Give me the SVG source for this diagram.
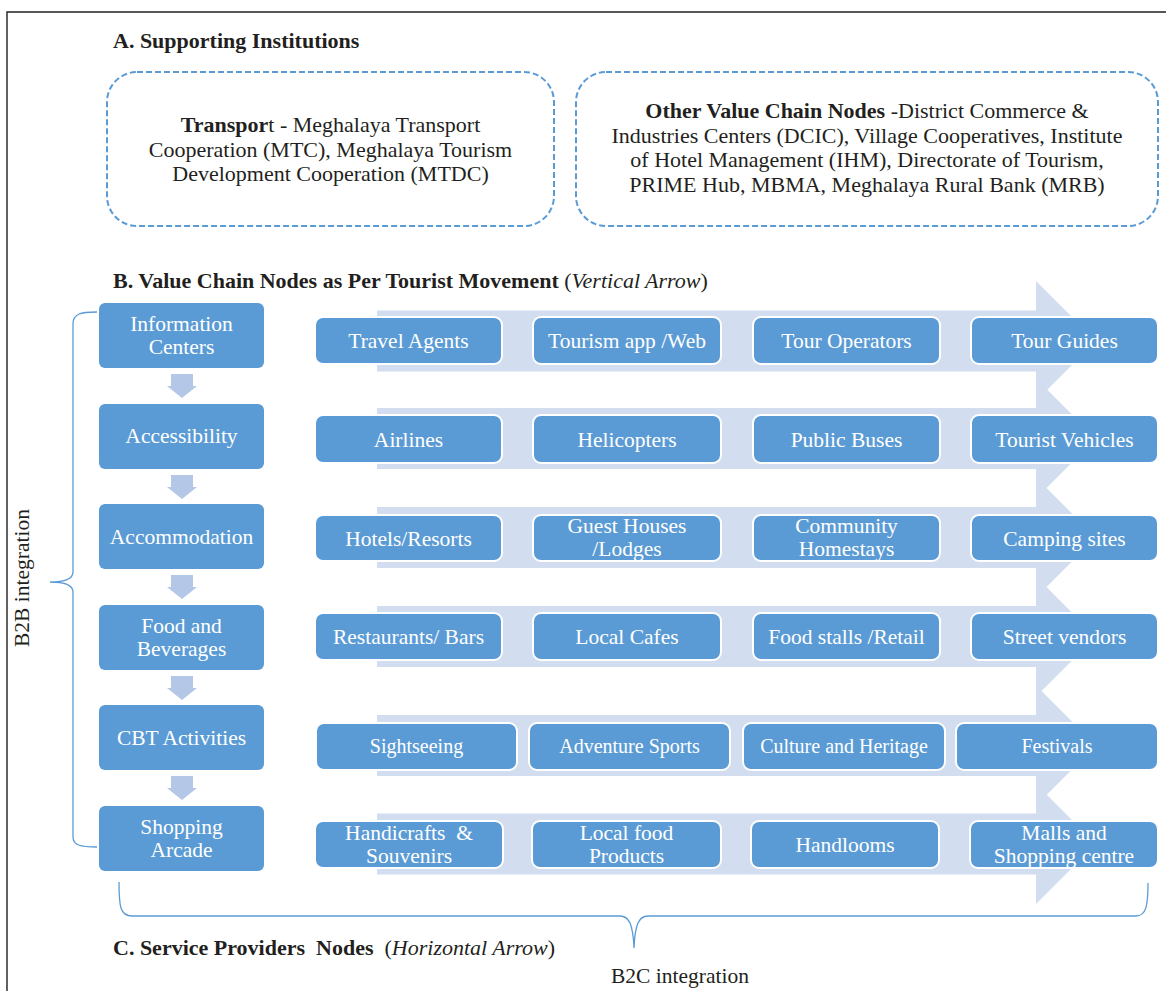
<svg xmlns="http://www.w3.org/2000/svg" width="1166" height="991" viewBox="0 0 1166 991">
<style>
.t{font-family:"Liberation Serif","Times New Roman",serif;fill:#231F20}
.h{font-size:22px;font-weight:bold}
.d{font-size:22px;text-anchor:middle}
.w{font-family:"Liberation Serif","Times New Roman",serif;fill:#ffffff;font-size:21.5px;text-anchor:middle}
.w5{font-size:20px}
.dash{fill:none;stroke:#5B9BD5;stroke-width:2;stroke-dasharray:6 3}
.lb{fill:#5B9BD5;stroke:none}
.rb{fill:#5B9BD5;stroke:#ffffff;stroke-width:2}
.band{fill:#D2DEEF}
.darr{fill:#B4C7E7}
.brace{fill:none;stroke:#5B9BD5;stroke-width:1.3}
</style>
<rect width="1166" height="991" fill="#ffffff"/>
<path d="M7,991 V12 H1166" fill="none" stroke="#231F20" stroke-width="1.4"/>

<text class="t h" x="113" y="48">A. Supporting Institutions</text>

<g id="transport">
<rect class="dash" x="107" y="72" width="447" height="154" rx="30"/>
<text class="t d" x="330.5" y="132"><tspan font-weight="bold">Transpor</tspan>t - Meghalaya Transport</text>
<text class="t d" x="330.5" y="156.5">Cooperation (MTC), Meghalaya Tourism</text>
<text class="t d" x="330.5" y="181">Development Cooperation (MTDC)</text>
</g>

<g id="other-nodes">
<rect class="dash" x="576" y="72" width="582" height="154" rx="30"/>
<text class="t d" x="867" y="118"><tspan font-weight="bold">Other Value Chain Nodes</tspan> -District Commerce &amp;</text>
<text class="t d" x="867" y="142.5">Industries Centers (DCIC), Village Cooperatives, Institute</text>
<text class="t d" x="867" y="167">of Hotel Management (IHM), Directorate of Tourism,</text>
<text class="t d" x="867" y="191.5">PRIME Hub, MBMA, Meghalaya Rural Bank (MRB)</text>
</g>

<text class="t" x="113" y="288" font-size="22"><tspan font-weight="bold">B. Value Chain Nodes as Per Tourist Movement</tspan> (<tspan font-style="italic">Vertical Arrow</tspan>)</text>

<g id="connectors">
<path class="band" d="M377,310.5 H1036 V281 L1096,341 L1036,401 V371.5 H377 Z"/>
<path class="band" d="M377,408 H1036 V378.5 L1096,438.5 L1036,498.5 V469 H377 Z"/>
<path class="band" d="M377,507 H1036 V477.5 L1096,537.5 L1036,597.5 V568 H377 Z"/>
<path class="band" d="M377,606 H1036 V576.5 L1096,636.5 L1036,696.5 V667 H377 Z"/>
<path class="band" d="M377,715 H1036 V685.5 L1096,745.5 L1036,805.5 V776 H377 Z"/>
<path class="band" d="M377,813.5 H1036 V784 L1096,844 L1036,904 V874.5 H377 Z"/>
<path class="darr" d="M171,374 H193 V386 H197 L182,398 L167,386 H171 Z"/>
<path class="darr" d="M171,475 H193 V487 H197 L182,499 L167,487 H171 Z"/>
<path class="darr" d="M171,575 H193 V587 H197 L182,599 L167,587 H171 Z"/>
<path class="darr" d="M171,676 H193 V688 H197 L182,700 L167,688 H171 Z"/>
<path class="darr" d="M171,776 H193 V788 H197 L182,800 L167,788 H171 Z"/>
<path class="brace" d="M97,312 C80,312 73,314 73,324 V572 C73,579 66,582 50,582 C66,582 73,585 73,592 V837 C73,845 80,847 97,847"/>
<path class="brace" d="M119,882 C119,906 120,916 132,916 H620 C629,916 633,924 634,948 C635,924 639,916 648,916 H1136 C1146,916 1148,906 1148,883"/>
</g>

<g id="information-centers"><rect class="lb" x="99" y="303" width="165" height="65" rx="6"/>
<text class="w" x="181.5" y="331">Information</text><text class="w" x="181.5" y="354">Centers</text></g>
<g id="accessibility"><rect class="lb" x="99" y="404" width="165" height="65" rx="6"/>
<text class="w" x="181.5" y="443">Accessibility</text></g>
<g id="accommodation"><rect class="lb" x="99" y="504" width="165" height="65" rx="6"/>
<text class="w" x="181.5" y="544">Accommodation</text></g>
<g id="food-beverages"><rect class="lb" x="99" y="605" width="165" height="65" rx="6"/>
<text class="w" x="181.5" y="633">Food and</text><text class="w" x="181.5" y="656">Beverages</text></g>
<g id="cbt-activities"><rect class="lb" x="99" y="705" width="165" height="65" rx="6"/>
<text class="w" x="181.5" y="745">CBT Activities</text></g>
<g id="shopping-arcade"><rect class="lb" x="99" y="806" width="165" height="65" rx="6"/>
<text class="w" x="181.5" y="834">Shopping</text><text class="w" x="181.5" y="857">Arcade</text></g>

<g id="travel-agents"><rect class="rb" x="315" y="317" width="187" height="47" rx="8"/><text class="w" x="408.5" y="348">Travel Agents</text></g>
<g id="tourism-app"><rect class="rb" x="533" y="317" width="188" height="47" rx="8"/><text class="w" x="627" y="348">Tourism app /Web</text></g>
<g id="tour-operators"><rect class="rb" x="753" y="317" width="187" height="47" rx="8"/><text class="w" x="846.5" y="348">Tour Operators</text></g>
<g id="tour-guides"><rect class="rb" x="971" y="317" width="187" height="47" rx="8"/><text class="w" x="1064.5" y="348">Tour Guides</text></g>

<g id="airlines"><rect class="rb" x="315" y="415" width="187" height="48" rx="8"/><text class="w" x="408.5" y="446.5">Airlines</text></g>
<g id="helicopters"><rect class="rb" x="533" y="415" width="188" height="48" rx="8"/><text class="w" x="627" y="446.5">Helicopters</text></g>
<g id="public-buses"><rect class="rb" x="753" y="415" width="187" height="48" rx="8"/><text class="w" x="846.5" y="446.5">Public Buses</text></g>
<g id="tourist-vehicles"><rect class="rb" x="971" y="415" width="187" height="48" rx="8"/><text class="w" x="1064.5" y="446.5">Tourist Vehicles</text></g>

<g id="hotels"><rect class="rb" x="315" y="515" width="187" height="46" rx="8"/><text class="w" x="408.5" y="545.5">Hotels/Resorts</text></g>
<g id="guest-houses"><rect class="rb" x="533" y="515" width="188" height="46" rx="8"/><text class="w" x="627" y="533">Guest Houses</text><text class="w" x="627" y="556">/Lodges</text></g>
<g id="homestays"><rect class="rb" x="753" y="515" width="187" height="46" rx="8"/><text class="w" x="846.5" y="533">Community</text><text class="w" x="846.5" y="556">Homestays</text></g>
<g id="camping"><rect class="rb" x="971" y="515" width="187" height="46" rx="8"/><text class="w" x="1064.5" y="545.5">Camping sites</text></g>

<g id="restaurants"><rect class="rb" x="315" y="613" width="187" height="47" rx="8"/><text class="w" x="408.5" y="643.5">Restaurants/ Bars</text></g>
<g id="local-cafes"><rect class="rb" x="533" y="613" width="188" height="47" rx="8"/><text class="w" x="627" y="643.5">Local Cafes</text></g>
<g id="food-stalls"><rect class="rb" x="753" y="613" width="187" height="47" rx="8"/><text class="w" x="846.5" y="643.5">Food stalls /Retail</text></g>
<g id="street-vendors"><rect class="rb" x="971" y="613" width="187" height="47" rx="8"/><text class="w" x="1064.5" y="643.5">Street vendors</text></g>

<g id="sightseeing"><rect class="rb" x="316" y="723" width="201" height="47" rx="8"/><text class="w w5" x="416.5" y="753">Sightseeing</text></g>
<g id="adventure-sports"><rect class="rb" x="529" y="723" width="201" height="47" rx="8"/><text class="w w5" x="629.5" y="753">Adventure Sports</text></g>
<g id="culture-heritage"><rect class="rb" x="743" y="723" width="202" height="47" rx="8"/><text class="w w5" x="844" y="753">Culture and Heritage</text></g>
<g id="festivals"><rect class="rb" x="956" y="723" width="202" height="47" rx="8"/><text class="w w5" x="1057" y="753">Festivals</text></g>

<g id="handicrafts"><rect class="rb" x="315" y="821" width="188" height="47" rx="8"/><text class="w" x="409" y="840" xml:space="preserve">Handicrafts  &amp;</text><text class="w" x="409" y="863">Souvenirs</text></g>
<g id="local-food"><rect class="rb" x="532" y="821" width="189" height="47" rx="8"/><text class="w" x="626.5" y="840">Local food</text><text class="w" x="626.5" y="863">Products</text></g>
<g id="handlooms"><rect class="rb" x="751" y="821" width="188" height="47" rx="8"/><text class="w" x="845" y="851.5">Handlooms</text></g>
<g id="malls"><rect class="rb" x="970" y="821" width="188" height="47" rx="8"/><text class="w" x="1064" y="840">Malls and</text><text class="w" x="1064" y="863">Shopping centre</text></g>

<text class="t" font-size="21.5" transform="translate(29,578) rotate(-90)" text-anchor="middle">B2B integration</text>
<text class="t" x="113" y="955" font-size="22" xml:space="preserve"><tspan font-weight="bold">C. Service Providers  Nodes</tspan>  (<tspan font-style="italic">Horizontal Arrow</tspan>)</text>
<text class="t" x="680" y="983" font-size="21.5" text-anchor="middle">B2C integration</text>
</svg>
